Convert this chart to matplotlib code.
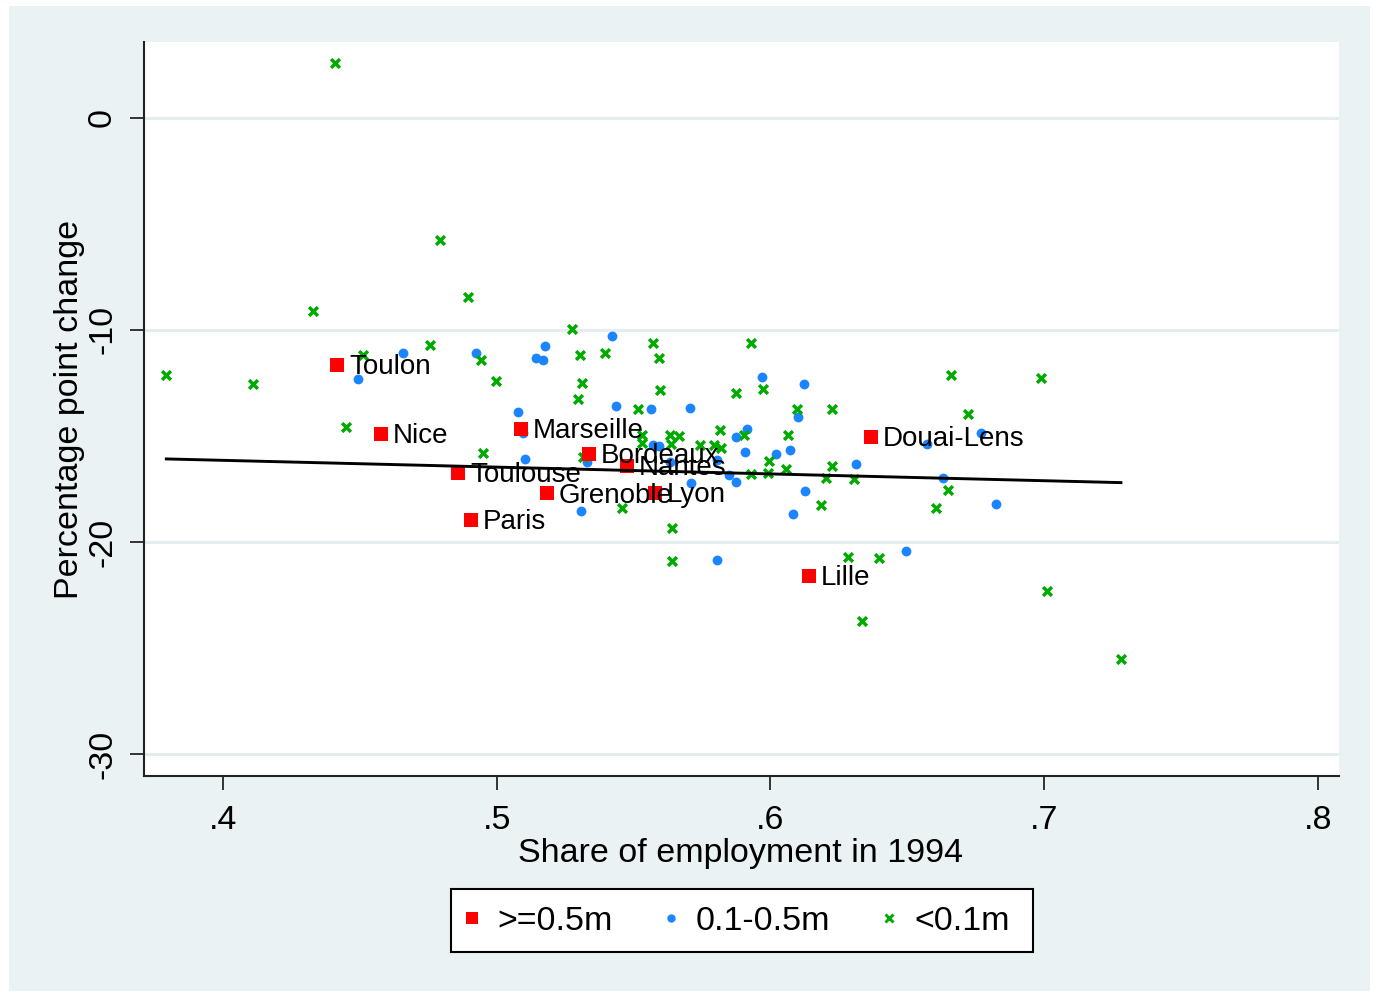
import numpy as np
import matplotlib
matplotlib.use("Agg")
import matplotlib.pyplot as plt
from matplotlib.patches import Rectangle
from matplotlib.lines import Line2D

plt.rcParams['font.family'] = ['Liberation Sans', 'DejaVu Sans']

# Cities with population >= 0.5m
big_names = ["Toulon", "Nice", "Marseille", "Toulouse", "Grenoble", "Paris",
             "Bordeaux", "Nantes", "Lyon", "Douai-Lens", "Lille"]
big_share = [0.4417, 0.4575, 0.5088, 0.4859, 0.5183, 0.4904,
             0.5338, 0.5476, 0.5578, 0.6367, 0.6142]
big_change = [-11.64, -14.89, -14.66, -16.76, -17.71, -18.96,
              -15.85, -16.40, -17.70, -15.06, -21.61]

# Cities with population 0.1-0.5m
mid_share = [0.4493, 0.4658, 0.4924, 0.5176, 0.5143, 0.5170, 0.5078, 0.5097,
             0.5103, 0.5421, 0.5437, 0.5565, 0.5706, 0.5968, 0.6124, 0.6101,
             0.5572, 0.5593, 0.5875, 0.5915, 0.5906, 0.6020, 0.6072, 0.5329,
             0.6312, 0.5847, 0.5874, 0.5711, 0.6127, 0.5307, 0.6081, 0.5803,
             0.6496, 0.6629, 0.6768, 0.6571, 0.6825, 0.5804, 0.5633]
mid_change = [-12.31, -11.07, -11.10, -10.74, -11.31, -11.42, -13.87, -14.87,
              -16.10, -10.29, -13.61, -13.73, -13.67, -12.23, -12.57, -14.12,
              -15.45, -15.47, -15.07, -14.65, -15.77, -15.85, -15.67, -16.23,
              -16.30, -16.85, -17.18, -17.20, -17.58, -18.52, -18.70, -20.87,
              -20.43, -16.98, -14.87, -15.38, -18.19, -16.13, -16.23]

# Cities with population < 0.1m
small_share = [0.3792, 0.4109, 0.4327, 0.4896, 0.4756, 0.4510, 0.4941, 0.4996,
               0.4447, 0.4949, 0.4408, 0.4792, 0.5274, 0.5304, 0.5396, 0.5572,
               0.5593, 0.5928, 0.5973, 0.5312, 0.5296, 0.5597, 0.5875, 0.5516,
               0.6098, 0.6226, 0.5529, 0.5529, 0.5633, 0.5666, 0.5635, 0.5742,
               0.5792, 0.5820, 0.5815, 0.5904, 0.6064, 0.5316, 0.5996, 0.6226,
               0.6057, 0.5929, 0.5992, 0.6202, 0.6307, 0.6184, 0.5459, 0.5639,
               0.5639, 0.6283, 0.6395, 0.6333, 0.7010, 0.7281, 0.6659, 0.6989,
               0.6721, 0.6649, 0.6604]
small_change = [-12.14, -12.54, -9.11, -8.44, -10.70, -11.18, -11.42, -12.41,
                -14.56, -15.79, 2.56, -5.78, -9.94, -11.20, -11.10, -10.63,
                -11.31, -10.63, -12.80, -12.52, -13.26, -12.83, -12.99, -13.74,
                -13.73, -13.75, -14.95, -15.34, -14.95, -15.01, -15.40, -15.42,
                -15.42, -15.57, -14.74, -14.94, -14.95, -15.98, -16.20, -16.41,
                -16.54, -16.81, -16.76, -16.97, -17.04, -18.27, -18.38, -19.34,
                -20.91, -20.70, -20.75, -23.70, -22.29, -25.51, -12.11, -12.28,
                -13.95, -17.56, -18.38]

# Employment-weighted linear fit of change on share
fit_intercept = -14.87
fit_slope = -3.20

x_ticks = [0.4, 0.5, 0.6, 0.7, 0.8]
x_tick_labels = [".4", ".5", ".6", ".7", ".8"]
y_ticks = [0, -10, -20, -30]
y_tick_labels = ["0", "-10", "-20", "-30"]
legend_labels = [">=0.5m", "0.1-0.5m", "<0.1m"]

RED = "#FF0000"
BLUE = "#1A85FF"
GREEN = "#00AA00"
BG = "#EAF2F3"

W, H = 1377, 997
fig = plt.figure(figsize=(W / 100, H / 100), dpi=100)
fig.patch.set_facecolor("white")
fig.patches.append(Rectangle((9 / W, 1 - 991 / H), (1370 - 9) / W, (991 - 6) / H,
                             transform=fig.transFigure, facecolor=BG,
                             edgecolor="none", zorder=-10))

ax = fig.add_axes([0.1049, 0.2220, 0.8675, 0.7362])
ax.set_facecolor("white")
ax.set_xlim(0.3712, 0.8078)
ax.set_ylim(-31.01, 3.58)

for side in ("top", "right"):
    ax.spines[side].set_visible(False)
for side in ("left", "bottom"):
    ax.spines[side].set_linewidth(1.5)
    ax.spines[side].set_color("#222222")

ax.set_xticks(x_ticks)
ax.set_xticklabels(x_tick_labels)
ax.set_yticks(y_ticks)
ax.set_yticklabels(y_tick_labels)
ax.tick_params(axis="both", direction="out", length=10, width=1.4,
               color="#333333", labelsize=24.5, labelcolor="black")
ax.tick_params(axis="x", pad=11)
ax.tick_params(axis="y", pad=9)
for lab in ax.get_yticklabels():
    lab.set_rotation(90)
    lab.set_va("center")
    lab.set_ha("right")

for yv in y_ticks:
    ax.axhline(yv, color="#E4EDEF", lw=2.2, zorder=0.5)

# scatter layers
ax.scatter(mid_share, mid_change, s=50, marker="o", color=BLUE,
           linewidths=0, zorder=3)
ax.scatter(small_share, small_change, s=40, marker="x", color=GREEN,
           linewidths=2.5, zorder=4)
ax.scatter(big_share, big_change, s=115, marker="s", color=RED,
           linewidths=0, zorder=5)
for name, xv, yv in zip(big_names, big_share, big_change):
    ax.annotate(name, (xv, yv), xytext=(8.5, -1.5), textcoords="offset points",
                ha="left", va="center", fontsize=20, color="black", zorder=6)

# fitted line over the observed range of shares
all_x = np.array(big_share + mid_share + small_share)
xs = np.array([all_x.min(), all_x.max()])
ax.plot(xs, fit_intercept + fit_slope * xs, color="black", lw=2.1, zorder=7)

fig.text(741 / W, 1 - 853 / H, "Share of employment in 1994",
         ha="center", va="center", fontsize=24.5)
fig.text(70 / W, 1 - 409 / H, "Percentage point change",
         ha="center", va="center", rotation=90, fontsize=24.5)

# legend box and entries
fig.patches.append(Rectangle((451 / W, 1 - 952 / H), (1033 - 451) / W, 63 / H,
                             transform=fig.transFigure, facecolor="white",
                             edgecolor="black", linewidth=1.5, zorder=5))
handles = [
    Line2D([], [], ls="none", marker="s", ms=8.8, mfc=RED, mec=RED, mew=0),
    Line2D([], [], ls="none", marker="o", ms=6, mfc=BLUE, mec=BLUE, mew=0),
    Line2D([], [], ls="none", marker="x", ms=5.2, mec=GREEN, mew=2.1),
]
leg = fig.legend(handles, legend_labels, loc="center",
                 bbox_to_anchor=(736 / W, 1 - 921 / H), ncol=3,
                 fontsize=24.5, frameon=False,
                 handlelength=0.55, handletextpad=0.47, columnspacing=1.44,
                 borderpad=0, borderaxespad=0)
leg.set_zorder(6)

fig.savefig("out.png", dpi=100, facecolor=fig.get_facecolor())
